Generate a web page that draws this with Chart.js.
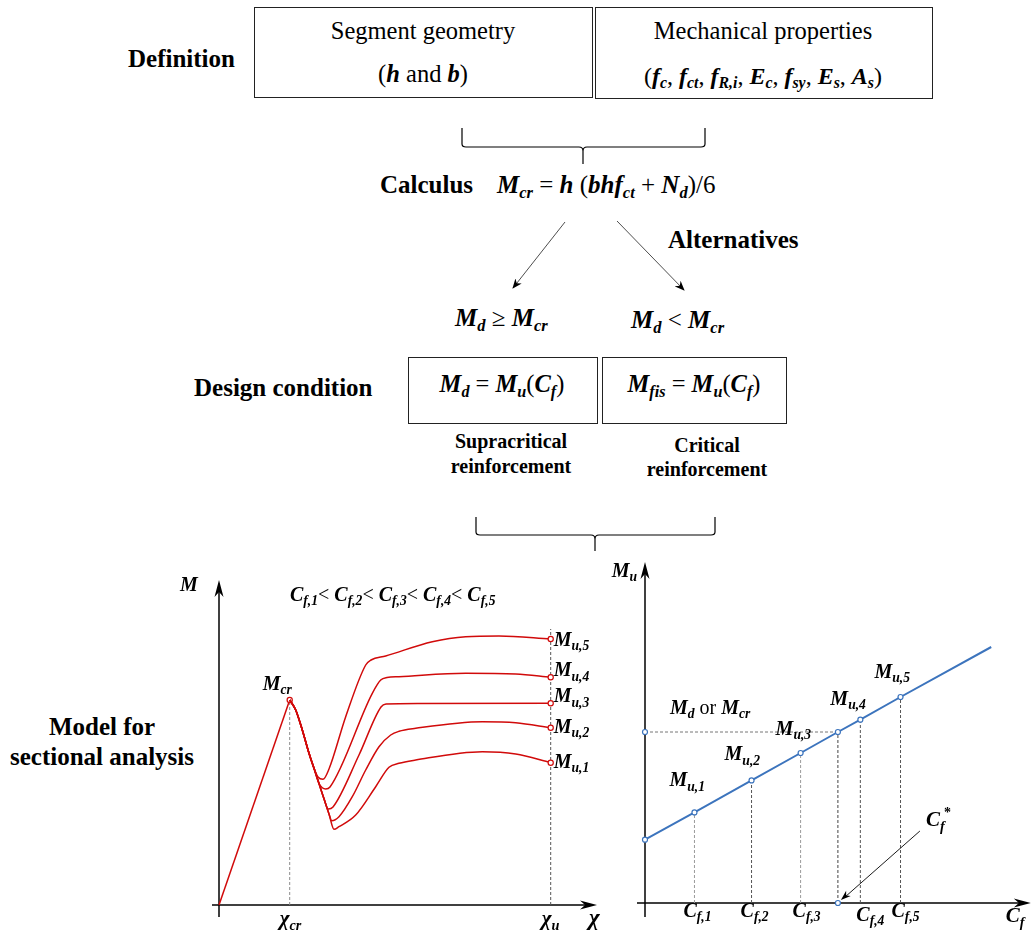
<!DOCTYPE html>
<html><head><meta charset="utf-8">
<script src="https://cdn.jsdelivr.net/npm/chart.js@4/dist/chart.umd.min.js"></script>
<style>
html,body{margin:0;padding:0;background:#fff;}
body{width:1036px;height:930px;position:relative;overflow:hidden;font-family:"Liberation Serif","DejaVu Serif","Times New Roman",Times,serif;color:#000;}
.t{position:absolute;white-space:nowrap;line-height:30px;height:30px;}
.c{transform:translateX(-50%);}
.b{font-weight:bold;}
.m{font-weight:bold;font-style:italic;}
.r{font-weight:normal;font-style:normal;}
sub{font-size:0.66em;vertical-align:-0.28em;line-height:0;}
.box{position:absolute;border:1.3px solid #222;box-sizing:border-box;}
canvas{position:absolute;}
svg{position:absolute;left:0;top:0;}
</style></head>
<body>
<!-- Flow chart (top) -->
<div class="t b" style="left:128px;top:44px;font-size:25px;">Definition</div>
<div class="box" style="left:254px;top:7px;width:339px;height:91px;"></div>
<div class="box" style="left:595px;top:7px;width:338px;height:92px;"></div>
<div class="t c" style="left:423px;top:16px;font-size:24.5px;">Segment geometry</div>
<div class="t c" style="left:423px;top:59px;font-size:24.5px;">(<span class="m">h</span> and <span class="m">b</span>)</div>
<div class="t c" style="left:763px;top:16px;font-size:24.5px;">Mechanical properties</div>
<div class="t c" style="left:763px;top:61px;font-size:24px;">(<span class="m">f<sub>c</sub></span>, <span class="m">f<sub>ct</sub></span>, <span class="m">f<sub>R,i</sub></span>, <span class="m">E<sub>c</sub></span>, <span class="m">f<sub>sy</sub></span>, <span class="m">E<sub>s</sub></span>, <span class="m">A<sub>s</sub></span>)</div>

<div class="t b" style="left:380px;top:170px;font-size:25px;">Calculus</div>
<div class="t" style="left:497px;top:170px;font-size:25px;"><span class="m">M<sub>cr</sub></span> = <span class="m">h</span> (<span class="m">bhf<sub>ct</sub></span> + <span class="m">N<sub>d</sub></span>)/6</div>

<div class="t b" style="left:668px;top:225px;font-size:25px;">Alternatives</div>
<div class="t" style="left:455px;top:303px;font-size:25px;"><span class="m">M<sub>d</sub></span> ≥ <span class="m">M<sub>cr</sub></span></div>
<div class="t" style="left:631px;top:305px;font-size:25px;"><span class="m">M<sub>d</sub></span> &lt; <span class="m">M<sub>cr</sub></span></div>

<div class="t b" style="left:194px;top:373px;font-size:25px;">Design condition</div>
<div class="box" style="left:408px;top:357px;width:190px;height:67px;"></div>
<div class="box" style="left:602px;top:357px;width:185px;height:67px;"></div>
<div class="t c" style="left:502px;top:369px;font-size:24.5px;"><span class="m">M<sub>d</sub></span> = <span class="m">M<sub>u</sub></span>(<span class="m">C<sub>f</sub></span>)</div>
<div class="t c" style="left:694px;top:369px;font-size:24.5px;"><span class="m">M<sub>fis</sub></span> = <span class="m">M<sub>u</sub></span>(<span class="m">C<sub>f</sub></span>)</div>
<div class="t c b" style="left:511px;top:426px;font-size:20px;">Supracritical</div>
<div class="t c b" style="left:511px;top:451px;font-size:20px;">reinforcement</div>
<div class="t c b" style="left:707px;top:430px;font-size:20px;">Critical</div>
<div class="t c b" style="left:707px;top:454px;font-size:20px;">reinforcement</div>

<div class="t c b" style="left:102px;top:712px;font-size:25px;">Model for</div>
<div class="t c b" style="left:102px;top:742px;font-size:25px;">sectional analysis</div>

<svg width="1036" height="930" viewBox="0 0 1036 930">
  <defs>
    <marker id="ah" markerWidth="10" markerHeight="8" refX="9" refY="4" orient="auto" markerUnits="userSpaceOnUse">
      <path d="M0,0 L10,4 L0,8 L3,4 Z" fill="#000"/>
    </marker>
  </defs>
  <g fill="none" stroke="#000" stroke-width="1.2">
    <path d="M462,128 V144 Q462,147 466,147 H579 Q583,147 583,151 V164 M583,151 Q583,147 587,147 H701 Q705,147 705,144 V128"/>
    <path d="M476,517 V532 Q476,535 480,535 H591 Q595,535 595,539 V551 M595,539 Q595,535 599,535 H711 Q715,535 715,532 V517"/>
  </g>
  <g stroke="#000" stroke-width="0.7" fill="none">
    <line x1="565" y1="222" x2="513" y2="288" marker-end="url(#ah)"/>
    <line x1="617" y1="221" x2="684" y2="290" marker-end="url(#ah)"/>
  </g>
</svg>

<canvas id="left" width="435" height="360" style="left:170px;top:570px;width:435px;height:360px;"></canvas>
<canvas id="right" width="431" height="380" style="left:605px;top:550px;width:431px;height:380px;"></canvas>

<script>
// ---------------- DATA ----------------
// Left chart: moment (M) vs curvature (chi) for five fibre contents, arbitrary units
const chiCr = 70.7, mCr = 205, chiU = 331.7;
const elasticChi = [0, chiCr];
const elasticM   = [0, mCr];

const chi_Cf5 = [70.7, 76.7, 83.3, 90, 95, 99, 104, 110, 126.7, 146.7, 152, 166.7, 213.3, 246.7, 280, 331.7];
const M_Cf5   = [205, 195, 175, 151.7, 136.7, 128, 125.7, 136, 188.3, 240, 245, 249, 263.3, 268.3, 269, 266];

const chi_Cf4 = [70.7, 76.7, 83.3, 90, 95, 100, 106.7, 111, 153.3, 161.7, 168, 180, 246.7, 296.7, 331.7];
const M_Cf4   = [205, 195, 175, 151.7, 136.7, 121.5, 116, 118, 211.7, 225, 227.5, 228.3, 231.7, 231, 227.7];

const chi_Cf3 = [70.7, 76.7, 83.3, 90, 95, 100, 105, 109.3, 114, 140, 162, 167, 200, 331.7];
const M_Cf3   = [205, 195, 175, 151.7, 136.7, 121.5, 106.2, 96, 98, 150, 198, 201, 201.5, 201.7];

const chi_Cf2 = [70.7, 76.7, 83.3, 90, 95, 100, 105, 110, 112.7, 120, 133.3, 146.7, 160, 171.7, 180, 196.7, 263.3, 296.7, 331.7];
const M_Cf2   = [205, 195, 175, 151.7, 136.7, 121.5, 106.2, 91, 84.3, 88.3, 108.3, 135, 158.3, 170, 173.7, 176.7, 183.3, 182.3, 177.3];

const chi_Cf1 = [70.7, 76.7, 83.3, 90, 95, 100, 105, 110, 115, 120, 136.7, 156.7, 170, 180, 196.7, 263.3, 296.7, 331.7];
const M_Cf1   = [205, 195, 175, 151.7, 136.7, 121.5, 106.2, 91, 75.7, 78.3, 90, 118.3, 137.7, 141.7, 145, 153.3, 151, 142.3];

const leftMuLabels = ['u,1', 'u,2', 'u,3', 'u,4', 'u,5'];

// Right chart: ultimate moment Mu vs fibre content Cf, arbitrary units
const cfValues = [50, 107.7, 157.3, 217.7, 258.3];
const muValues = [90.6, 122.6, 150.0, 183.3, 206.0];
const cfTickLabels = ['f,1', 'f,2', 'f,3', 'f,4', 'f,5'];
const muLineCf = [0, 350];
const muLineMu = [63.3, 256];
const mdLevel = 171;
const cfStar = 195;

// ---------------- HELPERS ----------------
const FAM = '"Liberation Serif","DejaVu Serif","Times New Roman",Times,serif';
const RED = '#d10a0a';
const BLUE = '#3c74bd';
const toPts = (xs, ys) => xs.map((x, i) => ({x, y: ys[i]}));

function arrowHead(ctx, tx, ty, ang, len = 17, half = 4.5) {
  ctx.save(); ctx.translate(tx, ty); ctx.rotate(ang);
  ctx.beginPath(); ctx.moveTo(0, 0); ctx.lineTo(-len, -half); ctx.lineTo(-len * 0.7, 0); ctx.lineTo(-len, half);
  ctx.closePath(); ctx.fill(); ctx.restore();
}
// parts: [text, kind]  kind: 'n' bold italic, 's' subscript, 'p' superscript, 'r' roman
function rich(ctx, x, y, parts, size, align) {
  const fontFor = k => {
    const sz = (k === 's' || k === 'p') ? size * 0.68 : size;
    const st = k === 'r' ? '' : 'italic bold ';
    return st + sz + 'px ' + FAM;
  };
  let w = 0;
  parts.forEach(([t, k]) => { ctx.font = fontFor(k); w += ctx.measureText(t).width; });
  let cx = align === 'center' ? x - w / 2 : align === 'right' ? x - w : x;
  ctx.textBaseline = 'alphabetic'; ctx.textAlign = 'left';
  parts.forEach(([t, k]) => {
    ctx.font = fontFor(k);
    const dy = k === 's' ? size * 0.22 : k === 'p' ? -size * 0.42 : 0;
    ctx.fillText(t, cx, y + dy);
    cx += ctx.measureText(t).width;
  });
}

const baseOpts = (pad, xmax, ymax) => ({
  responsive: false, devicePixelRatio: 1, animation: false, events: [],
  layout: {padding: pad},
  plugins: {legend: {display: false}, tooltip: {enabled: false}},
  scales: {
    x: {type: 'linear', min: 0, max: xmax, display: false},
    y: {type: 'linear', min: 0, max: ymax, display: false}
  }
});

// ---------------- LEFT CHART ----------------
const curves = [[chi_Cf1, M_Cf1], [chi_Cf2, M_Cf2], [chi_Cf3, M_Cf3], [chi_Cf4, M_Cf4], [chi_Cf5, M_Cf5]];
const curveDs = ([xs, ys]) => ({
  type: 'line', data: toPts(xs, ys), borderColor: RED, borderWidth: 1.5,
  cubicInterpolationMode: 'monotone',
  pointRadius: xs.map((_, i) => i === xs.length - 1 ? 2.6 : 0),
  pointBackgroundColor: '#fff', pointBorderColor: RED, pointBorderWidth: 1.2, clip: false
});
const endM = curves.map(([xs, ys]) => ys[ys.length - 1]);
const guideTop = Math.max(...endM) + 10;

const leftDeco = {
  id: 'leftDeco',
  beforeDatasetsDraw(chart) {
    const {ctx, chartArea: a, scales: {x, y}} = chart;
    const x0 = x.getPixelForValue(0), y0 = y.getPixelForValue(0);
    ctx.save(); ctx.strokeStyle = '#000'; ctx.fillStyle = '#000'; ctx.lineWidth = 1.5;
    ctx.beginPath(); ctx.moveTo(x0, y0 + 12); ctx.lineTo(x0, a.top + 8); ctx.stroke();
    arrowHead(ctx, x0, a.top, -Math.PI / 2);
    ctx.beginPath(); ctx.moveTo(x0 - 7, y0); ctx.lineTo(a.right - 8, y0); ctx.stroke();
    arrowHead(ctx, a.right, y0, 0);
    ctx.restore();
  },
  afterDatasetsDraw(chart) {
    const {ctx, chartArea: a, scales: {x, y}} = chart;
    const x0 = x.getPixelForValue(0), y0 = y.getPixelForValue(0);
    ctx.save(); ctx.fillStyle = '#000';
    rich(ctx, x0 - 39, a.top + 11, [['M', 'n']], 20);
    const title = [];
    leftMuLabels.forEach((l, i) => {
      title.push(['C', 'n'], [cfTickLabels[i], 's']);
      if (i < leftMuLabels.length - 1) title.push(['< ', 'r']);
    });
    rich(ctx, x0 + 71, a.top + 21, title, 20);
    const px = x.getPixelForValue(chiCr), py = y.getPixelForValue(mCr);
    rich(ctx, px - 27, py - 10, [['M', 'n'], ['cr', 's']], 20);
    const offs = [5, 5, -1, -1, 7];
    curves.forEach(([xs, ys], i) => {
      const ex = x.getPixelForValue(xs[xs.length - 1]), ey = y.getPixelForValue(ys[ys.length - 1]);
      rich(ctx, ex + 3, ey + offs[i], [['M', 'n'], [leftMuLabels[i], 's']], 20);
    });
    rich(ctx, px - 10, y0 + 20, [['χ', 'n'], ['cr', 's']], 21);
    rich(ctx, x.getPixelForValue(chiU) - 9, y0 + 20, [['χ', 'n'], ['u', 's']], 21);
    rich(ctx, a.right - 8, y0 + 20, [['χ', 'n']], 23);
    ctx.restore();
  }
};

new Chart(document.getElementById('left'), {
  type: 'line',
  data: {
    datasets: [
      ...curves.map(curveDs),
      {data: toPts(elasticChi, elasticM), borderColor: RED, borderWidth: 1.5, tension: 0,
       pointRadius: [0, 2.6], pointBackgroundColor: '#fff', pointBorderColor: RED, pointBorderWidth: 1.2, clip: false},
      {data: toPts([chiCr, chiCr], [0, mCr]), borderColor: '#8a8a8a', borderWidth: 1, borderDash: [3, 2], pointRadius: 0, clip: false},
      {data: toPts([chiU, chiU], [0, guideTop]), borderColor: '#555', borderWidth: 1, borderDash: [3, 2], pointRadius: 0, clip: false}
    ]
  },
  options: baseOpts({left: 49, right: 8, top: 10, bottom: 25}, 378, 325),
  plugins: [leftDeco]
});

// ---------------- RIGHT CHART ----------------
const lineCf = [muLineCf[0], ...cfValues.slice(0, 3), cfStar, ...cfValues.slice(3), muLineCf[1]];
const lineMu = [muLineMu[0], ...muValues.slice(0, 3), mdLevel, ...muValues.slice(3), muLineMu[1]];

const rightDeco = {
  id: 'rightDeco',
  beforeDatasetsDraw(chart) {
    const {ctx, chartArea: a, scales: {x, y}} = chart;
    const x0 = x.getPixelForValue(0), y0 = y.getPixelForValue(0);
    ctx.save(); ctx.strokeStyle = '#000'; ctx.fillStyle = '#000'; ctx.lineWidth = 1.5;
    ctx.beginPath(); ctx.moveTo(x0, y0 + 14); ctx.lineTo(x0, a.top + 8); ctx.stroke();
    arrowHead(ctx, x0, a.top, -Math.PI / 2);
    ctx.beginPath(); ctx.moveTo(x0 - 8, y0); ctx.lineTo(a.right - 8, y0); ctx.stroke();
    arrowHead(ctx, a.right, y0, 0);
    ctx.restore();
  },
  afterDatasetsDraw(chart) {
    const {ctx, chartArea: a, scales: {x, y}} = chart;
    const x0 = x.getPixelForValue(0), y0 = y.getPixelForValue(0);
    ctx.save(); ctx.fillStyle = '#000';
    rich(ctx, x0 - 8, a.top + 15, [['M', 'n'], ['u', 's']], 20, 'right');
    const yMd = y.getPixelForValue(mdLevel);
    rich(ctx, x0 + 25, yMd - 18, [['M', 'n'], ['d', 's'], [' or ', 'r'], ['M', 'n'], ['cr', 's']], 20);
    const muOff = [[-25, -26], [-27, -20], [-25, -18], [-30, -15], [-26, -19]];
    const cfOff = [[-11, 14], [-11, 14], [-8, 14], [-4, 18], [-9, 14]];
    cfValues.forEach((cf, i) => {
      const px = x.getPixelForValue(cf), py = y.getPixelForValue(muValues[i]);
      rich(ctx, px + muOff[i][0], py + muOff[i][1], [['M', 'n'], ['u,' + (i + 1), 's']], 20);
      rich(ctx, px + cfOff[i][0], y0 + cfOff[i][1], [['C', 'n'], [cfTickLabels[i], 's']], 20);
    });
    rich(ctx, a.right - 25, y0 + 19, [['C', 'n'], ['f', 's']], 21);
    const sx = x.getPixelForValue(cfStar);
    rich(ctx, sx + 88, y0 - 77, [['C', 'n'], ['f', 's']], 21);
    ctx.font = 'bold 14px ' + FAM; ctx.fillText('*', sx + 106, y0 - 86);
    ctx.strokeStyle = '#000'; ctx.lineWidth = 0.9;
    ctx.beginPath(); ctx.moveTo(sx + 82, y0 - 72); ctx.lineTo(sx + 6, y0 - 5); ctx.stroke();
    arrowHead(ctx, sx + 3, y0 - 3, Math.atan2(69, -79), 10, 3.5);
    ctx.restore();
  }
};

const guideDs = (xs, ys, col) => ({data: toPts(xs, ys), borderColor: col, borderWidth: 1, borderDash: [3, 2], pointRadius: 0, clip: false});
const dropCols = ['#9a9a9a', '#555', '#9a9a9a', '#555', '#555'];

new Chart(document.getElementById('right'), {
  type: 'line',
  data: {
    datasets: [
      {data: toPts([0, cfStar], [mdLevel, 0]), showLine: false, pointRadius: 2.5,
       pointBackgroundColor: '#fff', pointBorderColor: BLUE, pointBorderWidth: 1.2, clip: false},
      {data: toPts(lineCf, lineMu), borderColor: BLUE, borderWidth: 2, tension: 0,
       pointRadius: lineCf.map((_, i) => i === lineCf.length - 1 ? 0 : 2.5),
       pointBackgroundColor: '#fff', pointBorderColor: BLUE, pointBorderWidth: 1.2, clip: false},
      ...cfValues.map((cf, i) => guideDs([cf, cf], [0, muValues[i]], dropCols[i])),
      guideDs([0, cfStar], [mdLevel, mdLevel], '#777'),
      guideDs([cfStar, cfStar], [0, mdLevel], '#444')
    ]
  },
  options: baseOpts({left: 40, right: 1, top: 12, bottom: 27}, 390, 341),
  plugins: [rightDeco]
});
</script>
</body></html>
